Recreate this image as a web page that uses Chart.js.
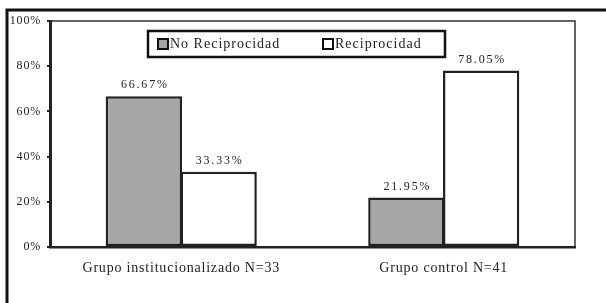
<!DOCTYPE html>
<html>
<head>
<meta charset="utf-8">
<script src="https://cdn.jsdelivr.net/npm/chart.js"></script>
<style>
    html, body { margin: 0; padding: 0; background: #fff; }
    #wrap { width: 606px; height: 303px; position: relative; }
</style>
</head>
<body>
<div id="wrap"><canvas id="chart" width="606" height="303"></canvas></div>
<script>
// Chart data
const categories = ['Grupo institucionalizado N=33', 'Grupo control N=41'];
const noReciprocidad = [66.67, 21.95];
const reciprocidad = [33.33, 78.05];
const yTicks = [0, 20, 40, 60, 80, 100];

const serif = '"Liberation Serif", "DejaVu Serif", serif';

// Outer frame, plot frame, legend box and value labels
const decorPlugin = {
    id: 'decor',
    beforeLayout(chart) {
        chart.ctx.letterSpacing = '0.8px';
    },
    beforeDraw(chart) {
        const ctx = chart.ctx;
        const a = chart.chartArea;
        ctx.letterSpacing = '0.8px';
        ctx.save();
        ctx.fillStyle = '#fff';
        ctx.fillRect(0, 0, chart.width, chart.height);
        // outer frame (top and left)
        ctx.strokeStyle = '#111';
        ctx.lineWidth = 3;
        ctx.beginPath();
        ctx.moveTo(606, 10);
        ctx.lineTo(7, 10);
        ctx.lineTo(7, 303);
        ctx.stroke();
        // thin plot frame (top and right)
        ctx.strokeStyle = '#333';
        ctx.lineWidth = 1.5;
        ctx.beginPath();
        ctx.moveTo(a.left, a.top);
        ctx.lineTo(a.right, a.top);
        ctx.lineTo(a.right, a.bottom);
        ctx.stroke();
        ctx.restore();
    },
    afterDatasetsDraw(chart) {
        const ctx = chart.ctx;
        ctx.save();
        // value labels
        ctx.letterSpacing = '1.8px';
        ctx.font = '12px ' + serif;
        ctx.fillStyle = '#222';
        ctx.textAlign = 'center';
        ctx.textBaseline = 'middle';
        chart.data.datasets.forEach((ds, i) => {
            chart.getDatasetMeta(i).data.forEach((bar, j) => {
                ctx.fillText(ds.data[j].toFixed(2) + '%', bar.x + 1, bar.y - 11);
            });
        });
        // legend box
        const lx = 148, ly = 31, lw = 297, lh = 26;
        ctx.fillStyle = '#fff';
        ctx.fillRect(lx, ly, lw, lh);
        ctx.strokeStyle = '#111';
        ctx.lineWidth = 2.5;
        ctx.strokeRect(lx, ly, lw, lh);
        ctx.letterSpacing = '1px';
        ctx.font = '14px ' + serif;
        ctx.textAlign = 'left';
        const items = [{x: 158, ds: chart.data.datasets[0]}, {x: 323, ds: chart.data.datasets[1]}];
        items.forEach(it => {
            ctx.fillStyle = it.ds.backgroundColor;
            ctx.fillRect(it.x, ly + 8, 10, 10);
            ctx.lineWidth = 2;
            ctx.strokeStyle = '#111';
            ctx.strokeRect(it.x, ly + 8, 10, 10);
            ctx.fillStyle = '#222';
            ctx.fillText(it.ds.label, it.x + 12, ly + 13.5);
        });
        ctx.restore();
    }
};

new Chart(document.getElementById('chart'), {
    type: 'bar',
    data: {
        labels: categories,
        datasets: [{
            label: 'No Reciprocidad',
            data: noReciprocidad,
            backgroundColor: '#a6a6a6',
            borderColor: '#222',
            borderWidth: 2.5,
            borderSkipped: false
        }, {
            label: 'Reciprocidad',
            data: reciprocidad,
            backgroundColor: '#ffffff',
            borderColor: '#222',
            borderWidth: 2.5,
            borderSkipped: false
        }]
    },
    options: {
        responsive: false,
        animation: false,
        devicePixelRatio: 1,
        layout: { padding: { top: 21, right: 31, left: 0, bottom: 0 } },
        categoryPercentage: 0.57,
        barPercentage: 1.02,
        plugins: {
            legend: { display: false },
            tooltip: { enabled: false }
        },
        scales: {
            x: {
                grid: { display: false, drawTicks: false },
                border: { color: '#222', width: 2.5 },
                ticks: {
                    color: '#222',
                    padding: 13,
                    font: { family: serif, size: 14 }
                },
                afterFit(scale) { scale.height = 56; }
            },
            y: {
                min: 0,
                max: 100,
                afterBuildTicks(scale) { scale.ticks = yTicks.map(v => ({ value: v })); },
                grid: { display: true, drawOnChartArea: false, tickLength: 3, color: '#222', lineWidth: 2 },
                border: { color: '#222', width: 3 },
                ticks: {
                    color: '#222',
                    padding: 6,
                    font: { family: serif, size: 12 },
                    callback: v => v + '%'
                },
                afterFit(scale) { scale.width = 50; }
            }
        }
    },
    plugins: [decorPlugin]
});
</script>
</body>
</html>
